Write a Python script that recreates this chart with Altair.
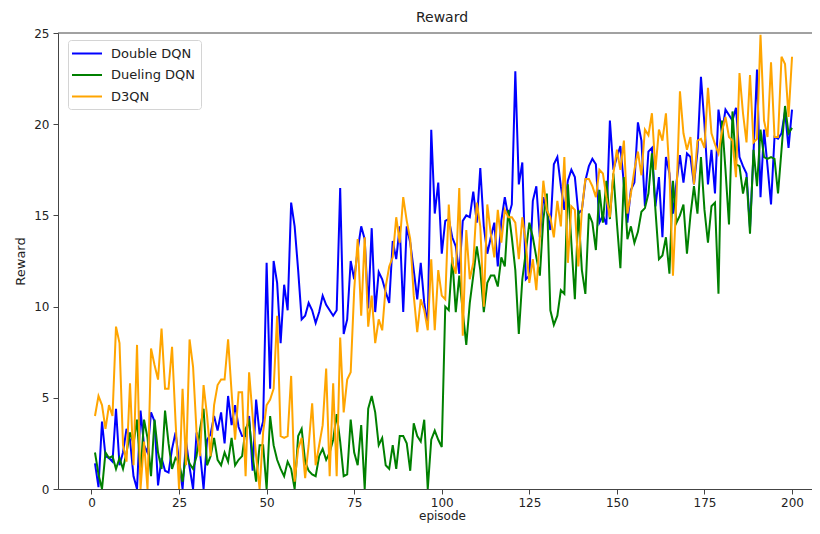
import altair as alt
import pandas as pd

episodes = list(range(1, 201))

double_dqn = [
    1.4, 0.1, 3.7, 1.8, 1.7, 1.5, 4.4, 1.3, 2.0, 3.3,
    2.7, 0.7, 0.0, 4.3, 2.4, 2.0, 4.2, 3.7, 0.2, 1.7,
    1.0, 0.9, 2.2, 3.1, 1.5, 0.0, 2.6, 1.2, 0.0, 3.1,
    2.0, 0.0, 2.7, 3.0, 4.0, 3.2, 4.2, 2.5, 5.1, 3.5,
    4.6, 3.4, 2.9, 2.9, 4.0, 1.0, 4.9, 3.0, 3.7, 12.4,
    5.5, 12.5, 11.3, 8.0, 11.2, 9.8, 15.7, 14.4, 12.0, 9.3,
    9.5, 10.2, 9.8, 9.1, 9.7, 10.6, 10.1, 9.8, 9.5, 9.8,
    16.5, 8.5, 9.3, 12.5, 11.5, 13.1, 14.4, 13.7, 9.9, 14.3,
    9.7, 11.9, 11.5, 10.8, 10.2, 13.6, 12.6, 14.4, 9.7, 14.4,
    13.5, 12.0, 10.4, 12.4, 10.2, 9.0, 19.7, 15.1, 16.8, 12.9,
    14.7, 14.8, 13.8, 13.3, 11.8, 14.7, 15.0, 14.9, 16.3, 14.6,
    17.6, 14.4, 12.9, 13.8, 14.6, 12.2, 14.7, 16.0, 14.9, 15.6,
    22.9, 16.7, 17.9, 11.5, 11.7, 15.8, 16.6, 13.8, 16.0, 15.3,
    14.2, 17.8, 18.2, 16.6, 15.3, 16.9, 17.5, 17.1, 15.1, 15.3,
    16.9, 17.7, 18.1, 17.8, 14.6, 15.0, 14.5, 20.2, 17.5, 18.2,
    18.8, 16.7, 14.6, 16.4, 16.8, 20.1, 19.1, 15.5, 18.5, 18.7,
    15.5, 17.1, 13.8, 18.2, 17.3, 15.1, 16.8, 18.3, 16.8, 18.4,
    18.2, 16.7, 18.5, 22.6, 20.0, 16.7, 18.6, 16.2, 20.8, 19.5,
    20.8, 20.5, 20.2, 20.9, 18.2, 17.7, 17.3, 14.3, 18.4, 23.0,
    16.0, 19.7, 17.7, 15.6, 19.3, 19.2, 19.5, 20.7, 18.7, 20.8,
]

dueling_dqn = [
    2.0, 0.8, 0.0, 2.0, 1.7, 1.8, 1.1, 1.7, 1.1, 2.0,
    3.1, 2.5, 3.8, 0.8, 3.8, 2.8, 0.7, 3.8, 2.0, 1.1,
    4.3, 2.5, 1.1, 1.7, 1.5, 0.4, 2.0, 1.4, 1.1, 1.8,
    3.3, 4.4, 1.3, 1.8, 2.8, 1.6, 1.3, 2.0, 1.5, 2.8,
    1.3, 1.6, 1.8, 3.3, 3.7, 1.8, 0.4, 2.4, 2.4, 0.0,
    4.0, 2.4, 1.6, 1.1, 0.7, 1.5, 1.1, 0.0, 2.9, 3.3,
    1.5, 1.0, 0.8, 0.7, 1.8, 2.2, 1.6, 2.0, 2.7, 4.1,
    2.6, 0.7, 0.8, 3.8, 2.0, 1.3, 3.5, 0.0, 4.4, 5.1,
    4.2, 2.4, 2.8, 1.3, 1.1, 2.4, 1.1, 2.9, 2.9, 2.5,
    1.0, 3.6, 2.9, 2.6, 3.8, 0.0, 2.7, 3.2, 2.7, 2.3,
    10.0, 9.8, 12.7, 9.7, 11.7, 9.7, 7.9, 10.2, 11.7, 13.3,
    12.0, 9.7, 11.3, 11.7, 11.7, 11.1, 12.7, 12.2, 15.3, 13.8,
    12.0, 8.5, 11.5, 13.0, 14.6, 13.8, 12.7, 11.7, 14.8, 16.2,
    9.8, 9.0, 9.5, 10.9, 10.7, 16.7, 13.5, 10.4, 15.3, 12.0,
    10.7, 15.1, 14.6, 13.1, 16.4, 14.6, 16.9, 14.8, 17.3, 14.6,
    12.1, 17.1, 13.7, 14.4, 13.5, 14.1, 15.2, 15.4, 16.2, 18.4,
    15.3, 12.6, 12.8, 13.8, 11.8, 16.9, 14.6, 15.0, 15.6, 12.9,
    15.0, 16.6, 15.1, 18.2, 15.3, 13.5, 15.5, 15.7, 10.7, 20.2,
    17.5, 14.5, 20.7, 17.8, 17.7, 16.2, 17.1, 14.0, 18.6, 16.6,
    19.7, 18.2, 18.1, 18.2, 18.1, 16.2, 18.6, 21.0, 19.5, 19.8,
]

d3qn = [
    4.0, 5.1, 4.6, 3.3, 4.6, 4.0, 8.9, 8.0, 2.4, 1.5,
    5.8, 1.3, 7.9, 0.0, 2.6, 0.0, 7.7, 6.8, 6.0, 8.8,
    5.5, 5.5, 7.8, 3.7, 0.0, 5.5, 1.3, 8.2, 6.7, 3.1,
    1.8, 5.7, 4.0, 1.8, 4.6, 5.7, 6.0, 6.0, 8.2, 5.3,
    2.7, 5.3, 5.3, 0.7, 6.4, 4.0, 1.8, 0.0, 3.1, 4.6,
    4.9, 5.5, 9.5, 2.9, 2.8, 2.9, 6.2, 0.4, 2.2, 2.8,
    0.6, 2.4, 4.7, 1.3, 2.4, 3.5, 6.6, 0.7, 5.8, 0.7,
    8.3, 4.2, 6.0, 6.4, 10.9, 13.7, 9.5, 13.8, 8.9, 10.6,
    8.0, 9.3, 8.7, 11.1, 12.2, 12.7, 14.9, 13.5, 16.0, 14.7,
    13.7, 10.6, 8.6, 10.4, 9.8, 8.7, 12.6, 8.7, 12.0, 10.6,
    10.4, 15.6, 12.4, 11.8, 16.5, 8.4, 14.2, 11.5, 12.4, 15.7,
    14.4, 10.0, 15.6, 14.0, 12.7, 15.3, 13.5, 15.3, 14.9, 14.9,
    14.6, 12.6, 14.9, 13.5, 11.3, 12.6, 10.9, 13.8, 16.9, 15.3,
    14.9, 13.8, 15.8, 14.4, 18.2, 12.4, 15.5, 15.3, 12.2, 15.3,
    17.0, 17.0, 16.6, 16.0, 17.5, 17.3, 16.0, 14.9, 17.3, 18.6,
    17.5, 19.1, 15.1, 16.2, 17.5, 18.5, 17.2, 19.7, 19.4, 20.6,
    17.5, 19.7, 19.1, 20.6, 17.3, 11.7, 16.0, 21.8, 19.5, 18.6,
    19.3, 16.7, 19.1, 19.2, 18.7, 22.0, 19.5, 18.9, 18.4, 19.6,
    20.4, 19.3, 19.1, 17.1, 22.8, 20.6, 19.0, 22.7, 19.0, 19.2,
    24.9, 20.2, 19.3, 23.4, 19.3, 19.3, 23.7, 23.3, 20.4, 23.7,
]

series_names = ["Double DQN", "Dueling DQN", "D3QN"]
series_colors = ["#0000ff", "#008000", "#ffa500"]
x_ticks = [0, 25, 50, 75, 100, 125, 150, 175, 200]
y_ticks = [0, 5, 10, 15, 20, 25]
y_top = 25

assert len(double_dqn) == 200 and len(dueling_dqn) == 200 and len(d3qn) == 200

rows = []
for name, vals in zip(series_names, [double_dqn, dueling_dqn, d3qn]):
    for e, v in zip(episodes, vals):
        rows.append({"episode": e, "reward": v, "series": name})
df = pd.DataFrame(rows)

FONT = "DejaVu Sans"
INK = "#222"
SPINE = "#444"

x_enc = alt.X(
    "episode:Q",
    scale=alt.Scale(domain=[-9.56, 205.7], nice=False, zero=False),
    axis=alt.Axis(values=x_ticks, title="episode", format="d", titleX=384,
                  titlePadding=2, titleFontSize=12, labelPadding=3),
)
y_enc = alt.Y(
    "reward:Q",
    scale=alt.Scale(domain=[0, 25], nice=False),
    axis=alt.Axis(values=y_ticks, title="Reward", format="d", titlePadding=6, labelPadding=4),
)
color_enc = alt.Color(
    "series:N",
    scale=alt.Scale(domain=series_names, range=series_colors),
    legend=alt.Legend(
        title=None,
        orient="none",
        legendX=10,
        legendY=7,
        symbolType="M-2,0L2,0",
        symbolSize=225,
        symbolStrokeWidth=2,
        symbolOffset=5.5,
        labelFontSize=13,
        labelFont=FONT,
        labelColor=INK,
        labelOffset=15.5,
        fillColor="white",
        strokeColor="#d4d4d4",
        cornerRadius=3,
        padding=5,
        rowPadding=5.5,
    ),
)

layers = []
for name in series_names:
    layers.append(
        alt.Chart(df)
        .transform_filter(alt.datum.series == name)
        .mark_line(strokeWidth=2, clip=True)
        .encode(x=x_enc, y=y_enc, color=color_enc)
    )

top_spine = (
    alt.Chart(pd.DataFrame({"k": [0]}))
    .mark_rule(color=SPINE, strokeWidth=1)
    .encode(y=alt.datum(y_top))
)

chart = (
    alt.layer(*layers, top_spine)
    .properties(
        width=754,
        height=456,
        title=alt.TitleParams("Reward", fontSize=14, font=FONT, fontWeight="normal", color=INK, offset=2, dx=7),
        autosize=alt.AutoSizeParams(type="none"),
        padding={"left": 50, "top": 25, "right": 0, "bottom": 37},
    )
    .configure_view(stroke=None)
    .configure_axis(
        grid=False,
        domain=True,
        domainColor=SPINE,
        domainWidth=1,
        tickSize=5,
        tickColor=SPINE,
        labelFont=FONT,
        labelFontSize=12,
        labelColor=INK,
        titleFont=FONT,
        titleFontSize=13,
        titleFontWeight="normal",
        titleColor=INK,
    )
)

chart.save("out.html", embed_options={"renderer": "svg", "actions": False})
